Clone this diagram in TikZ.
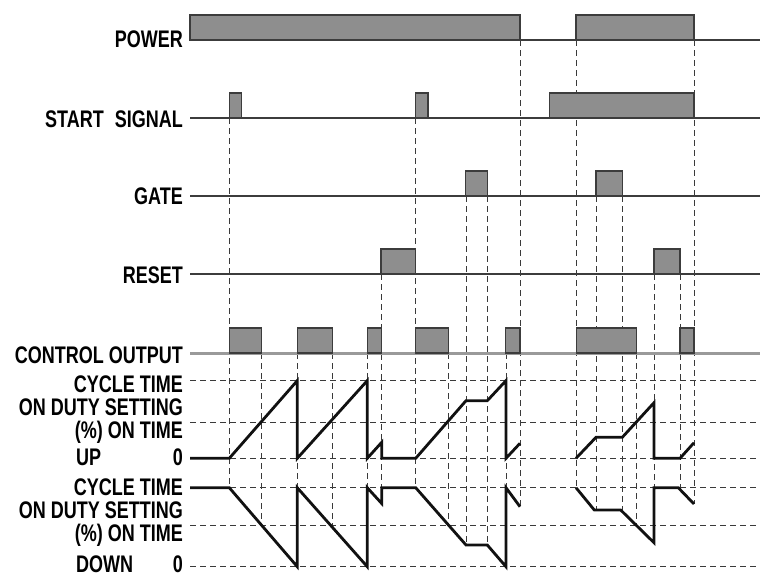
\documentclass[tikz,border=0pt]{standalone}
\usepackage{fontspec}
\usepackage{xcolor}
\usetikzlibrary{positioning}
\newfontfamily\chartfont[FakeStretch=0.75]{Liberation Sans Bold}
\definecolor{Ink}{HTML}{111111}
\definecolor{Rail}{HTML}{3C3C3C}
\definecolor{RailSoft}{HTML}{9A9A9A}
\definecolor{Pulse}{HTML}{8E8E8E}
\definecolor{Guide}{HTML}{3A3A3A}

\begin{document}
\begin{tikzpicture}[x=1pt,y=-1pt,
    every node/.style={font=\chartfont\fontsize{24}{26}\selectfont,inner sep=0pt},
    rail/.style={draw=Rail,line width=1.2pt},
    pulse/.style={draw=Rail,fill=Pulse,line width=1.2pt},
    guide/.style={draw=Guide,line width=0.9pt,dash pattern=on 6pt off 4pt},
    trace/.style={draw=Ink,line width=2.8pt}]
  \useasboundingbox[fill=white] (0,0) rectangle (760,576);
  \foreach \name/\yy/\txt in {power/47/POWER,start/127/START\hspace{11pt}SIGNAL,gate/204/GATE,reset/283/RESET,ctrl/363/CONTROL OUTPUT,cycU/392/CYCLE TIME,dutyU/415.5/ON DUTY SETTING,ontU/438.5/{(\%) ON TIME},zeroU/465/0,cycD/495/CYCLE TIME,dutyD/518.5/ON DUTY SETTING,ontD/541.5/{(\%) ON TIME},zeroD/572/0}
    \node[anchor=base east] (\name) at (183,\yy) {\txt};
  \node[anchor=base west] (up) at (76,465) {UP};
  \node[anchor=base west] (down) at (76,572) {DOWN};
  \foreach \yy in {380.6,422.5,458.3,487.7,525.5,566.7}
    \draw[guide] (190,\yy) -- (760,\yy);
  \foreach \xx/\ya/\yb in {229.3/118/487.7,261.5/353/525.5,297.3/353/566.7,332/353/525.5,367.3/353/566.7,381.7/274/503.5,415.7/118/487.7,448/353/525.5,466/196/545,487.3/196/545,506/353/566.7,520/40/506.7,576/40/487.7,596/196/510,622.3/196/510,636.3/353/525.5,654/274/542.7,680/274/487.7,694/40/504}
    \draw[guide] (\xx,\ya) -- (\xx,\yb);
  \foreach \yy in {40,118,196,274}
    \draw[rail] (190,\yy) -- (760,\yy);
  \draw[draw=RailSoft,line width=3pt] (190,353) -- (760,353);
  \foreach \yy/\a/\b in {40/190/520,40/576/694,118/229.3/241.7,118/415.3/428,118/549.3/694,196/465.7/487.3,196/596/622.3,274/381/415.7,274/654/680,353/229.3/261.7,353/297.3/332.3,353/367.3/381.7,353/415.7/448.3,353/505.3/520,353/576.7/636.3,353/680/694}
    \draw[pulse] (\a,\yy) rectangle (\b,\yy-25);
  \draw[trace] (190,458.3) -- (229.3,458.3) -- (297.3,380.6) -- (297.3,458.3) -- (367.3,380.6) -- (367.3,458.3) -- (381.7,442.3) -- (381.7,458.3) -- (415.7,458.3) -- (466,400.7) -- (487.3,400.7) -- (506,380.6) -- (506,458.3) -- (520,443.3);
  \draw[trace] (576,458.3) -- (596,437.3) -- (622.3,437.3) -- (654,402.7) -- (654,458.3) -- (680,458.3) -- (694,442.7);
  \draw[trace] (190,487.7) -- (229.3,487.7) -- (297.3,566.7) -- (297.3,487.7) -- (367.3,566.7) -- (367.3,487.7) -- (381.7,503.5) -- (381.7,487.7) -- (415.7,487.7) -- (466,545) -- (487.3,545) -- (506,566.7) -- (506,487.7) -- (520,506.7);
  \draw[trace] (576,487.7) -- (594.3,510) -- (620.7,510) -- (654,542.7) -- (654,487.7) -- (678.3,487.7) -- (694,504);
\end{tikzpicture}
\end{document}
